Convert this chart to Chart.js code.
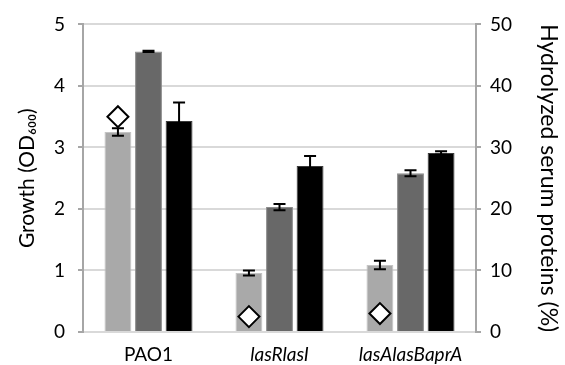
<!DOCTYPE html>
<html>
<head>
<meta charset="utf-8">
<script src="https://cdn.jsdelivr.net/npm/chart.js@4.4.0/dist/chart.umd.min.js"></script>
<style>
  html, body { margin: 0; padding: 0; background: #fff; }
  #wrap { width: 565px; height: 365px; }
</style>
</head>
<body>
<div id="wrap"><canvas id="growthChart"></canvas></div>
<script>
// Данные
const strains = ['PAO1', 'lasRlasI', 'lasAlasBaprA'];
const growthLight = [3.25, 0.96, 1.09];
const errLight = [0.06, 0.04, 0.07];
const growthGrey = [4.56, 2.03, 2.58];
const errGrey = [0.01, 0.05, 0.05];
const growthBlack = [3.43, 2.70, 2.91];
const errBlack = [0.30, 0.16, 0.03];
const hydrolyzed = [35.0, 2.5, 3.0];
const growthTicks = [0, 1, 2, 3, 4, 5];
const proteinTicks = [0, 10, 20, 30, 40, 50];

const FONT = 'Lato';
const CAT_PCT = 0.7;
const BAR_PCT = 0.88;
const AXIS_GREY = '#a6a6a6';

// Ось X линейная (одна на все наборы), категории стоят в 0, 1, 2
const toPoints = (arr) => arr.map((v, i) => ({ x: i, y: v }));

// Плагин для планок погрешностей
const errorBars = {
    id: 'errorBars',
    afterDatasetsDraw(chart) {
        const ctx = chart.ctx;
        const yScale = chart.scales.y;
        chart.data.datasets.forEach((ds, di) => {
            if (!ds.errors) return;
            const meta = chart.getDatasetMeta(di);
            meta.data.forEach((bar, i) => {
                const v = ds.data[i].y;
                const top = yScale.getPixelForValue(v + ds.errors[i]);
                const bot = yScale.getPixelForValue(v - ds.errors[i]);
                ctx.save();
                ctx.strokeStyle = '#000';
                ctx.lineWidth = 2;
                ctx.beginPath();
                ctx.moveTo(bar.x, top);
                ctx.lineTo(bar.x, bot);
                ctx.moveTo(bar.x - 6, top);
                ctx.lineTo(bar.x + 6, top);
                ctx.moveTo(bar.x - 6, bot);
                ctx.lineTo(bar.x + 6, bot);
                ctx.stroke();
                ctx.restore();
            });
        });
    }
};

const ctx = document.getElementById('growthChart').getContext('2d');
new Chart(ctx, {
    type: 'bar',
    data: {
        datasets: [
            {
                label: 'A',
                data: toPoints(growthLight),
                errors: errLight,
                backgroundColor: '#a9a9a9',
                borderColor: '#c4c4c4',
                order: 1
            },
            {
                label: 'B',
                data: toPoints(growthGrey),
                errors: errGrey,
                backgroundColor: '#686868',
                borderColor: '#8c8c8c',
                order: 1
            },
            {
                label: 'C',
                data: toPoints(growthBlack),
                errors: errBlack,
                backgroundColor: '#000000',
                borderColor: '#3a3a3a',
                order: 1
            },
            {
                type: 'scatter',
                label: 'Hydrolyzed',
                // ромб над первым (светлым) столбцом группы
                data: hydrolyzed.map((v, i) => ({ x: i - CAT_PCT / 3, y: v })),
                xAxisID: 'x',
                yAxisID: 'y1',
                showLine: false,
                pointStyle: 'rectRot',
                pointRadius: 10.5,
                pointBorderWidth: 2,
                pointBackgroundColor: '#fff',
                pointBorderColor: '#000',
                order: 0
            }
        ]
    },
    options: {
        responsive: true,
        maintainAspectRatio: false,
        animation: false,
        datasets: {
            bar: {
                categoryPercentage: CAT_PCT,
                barPercentage: BAR_PCT,
                borderWidth: 1,
                yAxisID: 'y',
                xAxisID: 'x'
            }
        },
        layout: { padding: { top: 12, left: 0, right: 0, bottom: 0 } },
        plugins: {
            legend: { display: false },
            tooltip: { enabled: false }
        },
        scales: {
            x: {
                type: 'linear',
                offset: false,
                min: -0.5,
                max: 2.5,
                afterBuildTicks: (axis) => { axis.ticks = strains.map((s, i) => ({ value: i })); },
                grid: { display: false },
                border: { display: false },
                ticks: {
                    color: '#000',
                    padding: 3,
                    autoSkip: false,
                    maxRotation: 0,
                    callback: (v) => strains[v],
                    font: (c) => ({ family: FONT, size: 19, style: c.index > 0 ? 'italic' : 'normal' })
                },
                afterFit: (scale) => { scale.height = 33; }
            },
            y: {
                position: 'left',
                min: 0,
                max: 5,
                afterBuildTicks: (axis) => { axis.ticks = growthTicks.map(v => ({ value: v })); },
                grid: { color: '#d9d9d9', lineWidth: 2, tickColor: AXIS_GREY, tickLength: 5 },
                border: { color: AXIS_GREY, width: 2 },
                ticks: { color: '#000', padding: 13, font: { family: FONT, size: 19 } },
                title: {
                    display: true,
                    text: 'Growth (OD₆₀₀)',
                    color: '#000',
                    font: { family: FONT, size: 21 },
                    padding: { top: 15, bottom: 0 }
                },
                afterFit: (scale) => { scale.width = 83; }
            },
            y1: {
                position: 'right',
                min: 0,
                max: 50,
                afterBuildTicks: (axis) => { axis.ticks = proteinTicks.map(v => ({ value: v })); },
                grid: { drawOnChartArea: false, tickColor: AXIS_GREY, tickLength: 5, lineWidth: 2 },
                border: { color: AXIS_GREY, width: 2 },
                ticks: { color: '#000', padding: 9, font: { family: FONT, size: 19 } },
                title: {
                    display: true,
                    text: 'Hydrolyzed serum proteins (%)',
                    color: '#000',
                    font: { family: FONT, size: 23 },
                    padding: { top: 3, bottom: 0 }
                },
                afterFit: (scale) => { scale.width = 89; }
            }
        }
    },
    plugins: [errorBars]
});
</script>
</body>
</html>
